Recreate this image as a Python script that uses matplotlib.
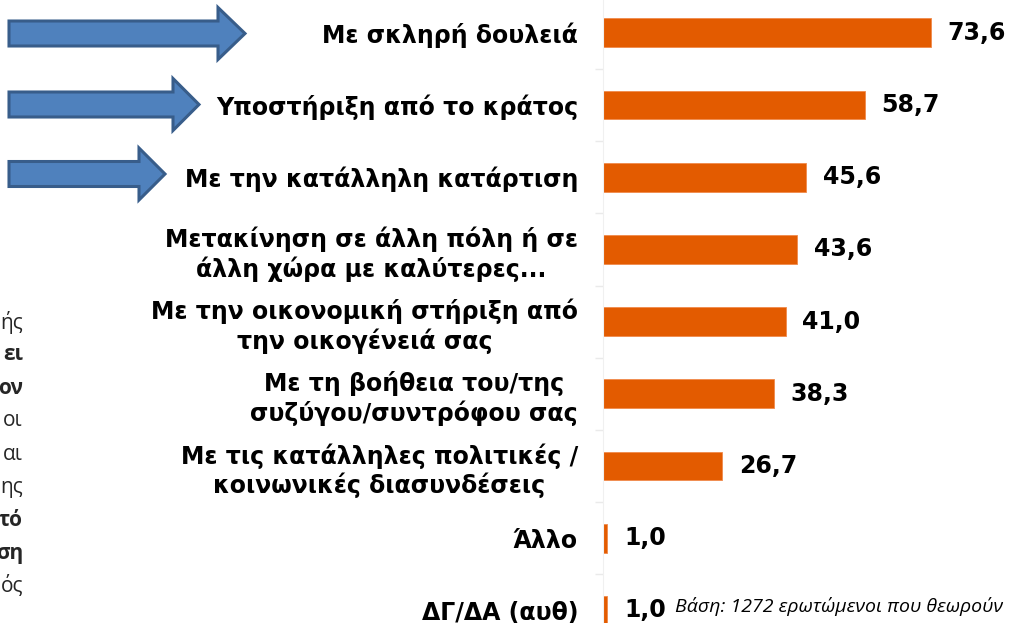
import numpy as np
import matplotlib.pyplot as plt
from matplotlib.patches import Polygon

# Data
categories = [
    "Με σκληρή δουλειά",
    "Υποστήριξη από το κράτος",
    "Με την κατάλληλη κατάρτιση",
    "Μετακίνηση σε άλλη πόλη ή σε\nάλλη χώρα με καλύτερες...",
    "Με την οικονομική στήριξη από\nτην οικογένειά σας",
    "Με τη βοήθεια του/της\nσυζύγου/συντρόφου σας",
    "Με τις κατάλληλες πολιτικές /\nκοινωνικές διασυνδέσεις",
    "Άλλο",
    "ΔΓ/ΔΑ (αυθ)",
]
values = [73.6, 58.7, 45.6, 43.6, 41.0, 38.3, 26.7, 1.0, 1.0]

# visible word endings of the text cut off at the left edge
side_words = ["ής", "ει", "ον", "οι", "αι", "ης", "τό", "ση", "ός"]
side_bold = [False, True, True, False, False, False, True, True, False]

note_text = "Βάση: 1272 ερωτώμενοι που θεωρούν"
note_text2 = "ότι οι νέοι μπορούν να πετύχουν στη ζωή"

BAR = "#E35B00"
W, H = 1009, 623

fig = plt.figure(figsize=(W / 100, H / 100), dpi=100)
ax = fig.add_axes([603 / W, 0, (W - 603) / W, 1])

y = np.arange(len(categories))
ax.barh(y, values, height=0.4, color=BAR, edgecolor="#F08A4B", linewidth=0.6)

for i, v in enumerate(values):
    ax.annotate(f"{v:.1f}".replace(".", ","), (v, i), xytext=(12, 0),
                textcoords="offset points", va="center", ha="left",
                fontsize=17, fontweight="bold", color="#000000")

ax.set_yticks(y)
ax.set_yticklabels(categories, fontsize=17, fontweight="bold")
for lab in ax.get_yticklabels():
    lab.set_multialignment("center")
ax.tick_params(axis="y", which="major", length=0, pad=18)
ax.set_yticks(np.arange(-0.5, len(categories), 1), minor=True)
ax.tick_params(axis="y", which="minor", length=6, color="#EAEAEA", width=1)
ax.set_xticks([])
ax.set_xlim(0, 91.1)
ax.set_ylim(8.174, -0.454)
for s in ["top", "right", "bottom"]:
    ax.spines[s].set_visible(False)
ax.spines["left"].set_color("#F0F0F0")

# overlay in pixel coords for the arrows and side texts
ov = fig.add_axes([0, 0, 1, 1], facecolor="none")
ov.set_xlim(0, W)
ov.set_ylim(H, 0)
ov.axis("off")

arrows = [(9, 218, 245, 33.5), (9, 173, 199, 104.5), (9, 139, 165, 174)]
for x0, xh, xt, yc in arrows:
    pts = [(x0, yc - 12.5), (xh, yc - 12.5), (xh, yc - 26), (xt, yc),
           (xh, yc + 26), (xh, yc + 12.5), (x0, yc + 12.5)]
    ov.add_patch(Polygon(pts, closed=True, facecolor="#4F81BD",
                         edgecolor="#385D8A", linewidth=2.2, joinstyle="miter"))

for k, (w, b) in enumerate(zip(side_words, side_bold)):
    ov.text(23, 322 + 33 * k, w, ha="right", va="center", fontsize=15,
            fontweight="bold" if b else "normal", color="#262626",
            family="Open Sans")

ov.text(675, 607, note_text, ha="left", va="center", fontsize=14,
        style="italic", family="Open Sans", color="#000000")
ov.text(680, 634, note_text2, ha="left", va="center", fontsize=14,
        style="italic", family="Open Sans", color="#000000")

fig.savefig("out.png", dpi=100)
